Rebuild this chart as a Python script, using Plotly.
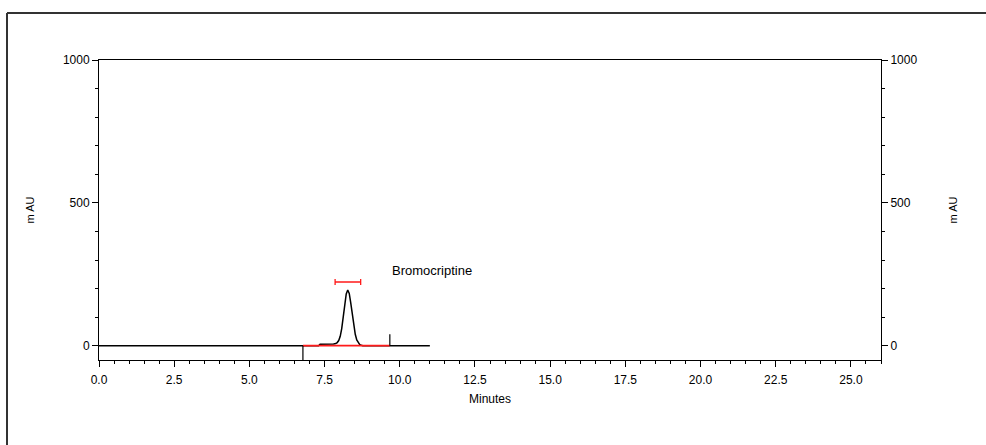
import plotly.graph_objects as go

# Chromatogram trace (minutes, mAU)
time_min = [0.0, 7.30, 7.35, 7.72, 7.80, 7.87, 7.92, 7.97, 8.02, 8.07, 8.12, 8.17,
            8.22, 8.27, 8.32, 8.37, 8.42, 8.47, 8.52, 8.57, 8.62, 8.67, 8.72, 8.77, 11.0]
signal_mau = [0, 0, 5, 5, 6, 8, 11, 18, 33, 60, 100, 145,
              181, 195, 183, 150, 108, 70, 40, 20, 9, 4, 1.5, 0, 0]

# Integration baseline and peak marks
baseline_x = [6.78, 9.67]
baseline_y = [0, 0]
start_mark_x = [6.78, 6.78]
start_mark_y = [0, -50]
end_mark_x = [9.67, 9.67]
end_mark_y = [0, 40]

# Peak window bar
peak_center = [8.275]
peak_level = [223]
peak_halfwidth = [0.425]

peak_name = "Bromocriptine"
label_x = 9.68
label_y = 265

x_range = [0, 26]
y_range = [-50, 1000]
x_ticks = [0, 2.5, 5, 7.5, 10, 12.5, 15, 17.5, 20, 22.5, 25]
x_ticktext = ["0.0", "2.5", "5.0", "7.5", "10.0", "12.5", "15.0", "17.5", "20.0", "22.5", "25.0"]
y_ticks = [0, 500, 1000]

FONT = "Liberation Sans, Arial, sans-serif"

fig = go.Figure()
fig.add_trace(go.Scatter(x=time_min, y=signal_mau, mode="lines",
                         line=dict(color="black", width=1.5), showlegend=False, hoverinfo="skip"))
fig.add_trace(go.Scatter(x=baseline_x, y=baseline_y, mode="lines",
                         line=dict(color="#ff1a1a", width=1.8), showlegend=False, hoverinfo="skip"))
fig.add_trace(go.Scatter(x=start_mark_x, y=start_mark_y, mode="lines",
                         line=dict(color="black", width=1.2), showlegend=False, hoverinfo="skip"))
fig.add_trace(go.Scatter(x=end_mark_x, y=end_mark_y, mode="lines",
                         line=dict(color="black", width=1.2), showlegend=False, hoverinfo="skip"))
fig.add_trace(go.Scatter(x=peak_center, y=peak_level, mode="markers",
                         marker=dict(size=1, color="rgba(0,0,0,0)"),
                         error_x=dict(type="data", array=peak_halfwidth, color="#ff1a1a",
                                      thickness=1.3, width=3),
                         showlegend=False, hoverinfo="skip"))
# invisible trace for right axis
fig.add_trace(go.Scatter(x=[0], y=[0], yaxis="y2", mode="markers",
                         marker=dict(size=1, color="rgba(0,0,0,0)"),
                         showlegend=False, hoverinfo="skip"))

fig.add_annotation(x=label_x, y=label_y, text=peak_name, showarrow=False,
                   xanchor="left", yanchor="middle",
                   font=dict(family=FONT, size=13, color="black"))

axis_font = dict(family=FONT, size=12, color="black")
title_font = dict(family=FONT, size=11, color="black")

fig.update_layout(
    width=986, height=445,
    margin=dict(l=99, r=105, t=60, b=85),
    paper_bgcolor="white", plot_bgcolor="white",
    font=axis_font,
    xaxis=dict(range=x_range, tickvals=x_ticks, ticktext=x_ticktext,
               showline=True, linecolor="black", linewidth=1, mirror=True,
               ticks="outside", ticklen=6, tickcolor="black", tickwidth=1,
               ticklabelstandoff=3, tickfont=axis_font,
               minor=dict(dtick=0.5, tick0=0, ticks="outside", ticklen=3,
                          tickcolor="black", showgrid=False),
               showgrid=False, zeroline=False,
               title=dict(text="Minutes", font=dict(family=FONT, size=12, color="black"), standoff=8)),
    yaxis=dict(range=y_range, tickvals=y_ticks,
               showline=True, linecolor="black", linewidth=1,
               ticks="outside", ticklen=6, tickcolor="black", tickwidth=1,
               tickfont=axis_font,
               minor=dict(dtick=100, tick0=0, ticks="outside", ticklen=3,
                          tickcolor="black", showgrid=False),
               showgrid=False, zeroline=False,
               title=dict(text="m AU", font=title_font, standoff=26)),
    yaxis2=dict(range=y_range, tickvals=y_ticks, overlaying="y", side="right",
                showline=True, linecolor="black", linewidth=1,
                ticks="outside", ticklen=6, tickcolor="black", tickwidth=1,
                tickfont=axis_font,
                minor=dict(dtick=100, tick0=0, ticks="outside", ticklen=3,
                           tickcolor="black", showgrid=False),
                showgrid=False, zeroline=False,
                title=dict(text="m AU", font=title_font, standoff=32)),
    shapes=[
        dict(type="line", xref="paper", yref="paper",
             x0=(7 - 99) / 782, x1=(1000 - 99) / 782,
             y0=(445 - 85 - 13) / 300, y1=(445 - 85 - 13) / 300,
             line=dict(color="#333333", width=2)),
        dict(type="line", xref="paper", yref="paper",
             x0=(7 - 99) / 782, x1=(7 - 99) / 782,
             y0=(445 - 85 - 13) / 300, y1=(445 - 85 - 460) / 300,
             line=dict(color="#333333", width=2)),
    ],
)

fig.write_html("out.html")
